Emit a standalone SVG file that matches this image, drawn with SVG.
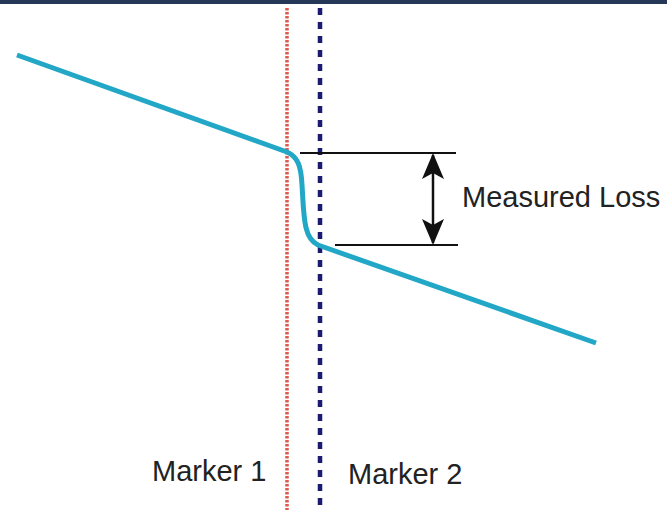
<svg xmlns="http://www.w3.org/2000/svg" width="667" height="510" viewBox="0 0 667 510">
<style>
.lbl{font-family:"Liberation Sans",Arial,sans-serif;font-size:29px;fill:#222}
.dim{stroke:#111;stroke-width:2;fill:none}
</style>
<defs>
<marker id="ah" viewBox="0 0 26 22" refX="24" refY="11" markerWidth="26" markerHeight="22" orient="auto-start-reverse" markerUnits="userSpaceOnUse">
<path d="M0,0 L26,11 L0,22 L6,11 z" fill="#111"/>
</marker>
</defs>
<rect width="667" height="510" fill="#fff"/>
<rect width="667" height="4" fill="#253858"/>
<g id="marker1">
<line x1="287" y1="8" x2="287" y2="510" stroke="#e0594c" stroke-width="3.5" stroke-dasharray="2.5,1.5"/>
</g>
<g id="marker2">
<line x1="320" y1="8" x2="320" y2="510" stroke="#1a1a70" stroke-width="4.5" stroke-dasharray="7,7"/>
</g>
<g id="trace">
<path d="M17,55 L287,152 C298,157 301,166 302,185 C304,215 303,238 318,245 L596,343" stroke="#22a7c6" stroke-width="5" fill="none" stroke-linejoin="round"/>
</g>
<g id="connectors">
<line class="dim" x1="300" y1="153" x2="456" y2="153"/>
<line class="dim" x1="335" y1="245" x2="458" y2="245"/>
<line x1="433" y1="155" x2="433" y2="243" stroke="#111" stroke-width="2.5" marker-start="url(#ah)" marker-end="url(#ah)"/>
</g>
<g id="labels">
<text class="lbl" x="462" y="207">Measured Loss</text>
<text class="lbl" x="152" y="481">Marker 1</text>
<text class="lbl" x="348" y="484">Marker 2</text>
</g>
</svg>
